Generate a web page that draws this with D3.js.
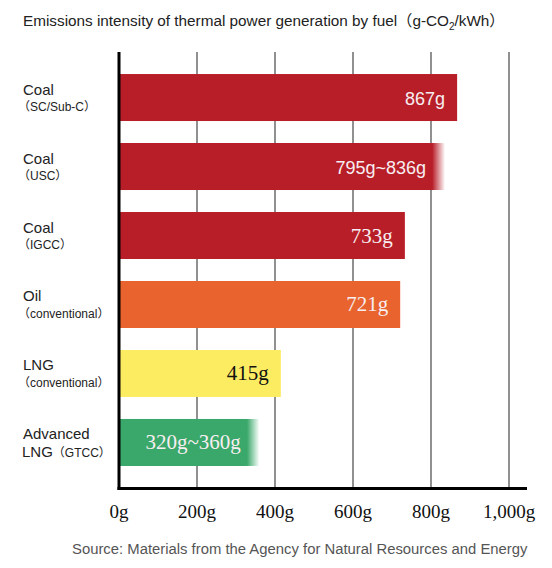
<!DOCTYPE html>
<html>
<head>
<meta charset="utf-8">
<script src="https://cdn.jsdelivr.net/npm/d3@7"></script>
<style>
  body { margin: 0; background: #fff; }
  svg { display: block; }
  .title { font-family: "Liberation Sans", "Noto Sans CJK JP", sans-serif; font-size: 15.3px; fill: #222; }
  .cat { font-family: "Liberation Sans", "Noto Sans CJK JP", sans-serif; fill: #222; }
  .tick-label { font-family: "Liberation Serif", serif; font-size: 19px; fill: #111; }
  .source { font-family: "Liberation Sans", sans-serif; font-size: 14.85px; fill: #555; }
</style>
</head>
<body>
<svg width="552" height="568"></svg>
<script>
// chart data
var fuels = ["Coal", "Coal", "Coal", "Oil", "LNG", "Advanced"];
var subLabels = ["（SC/Sub-C）", "（USC）", "（IGCC）", "（conventional）", "（conventional）", "（GTCC）"];
var lowValues = [867, 795, 733, 721, 415, 320];
var highValues = [867, 836, 733, 721, 415, 360];
var valueLabels = ["867g", "795g~836g", "733g", "721g", "415g", "320g~360g"];
var barColors = ["#b81e28", "#b81e28", "#b81e28", "#e8632d", "#fcec62", "#3aa86a"];
var tickValues = [0, 200, 400, 600, 800, 1000];
var tickLabels = ["0g", "200g", "400g", "600g", "800g", "1,000g"];

var svg = d3.select("svg");

// scales
var x = d3.scaleLinear()
    .domain([0, 1000])
    .range([119, 509]);

var y = d3.scaleBand()
    .domain(d3.range(fuels.length))
    .range([63, 477])
    .paddingInner(0.319)
    .paddingOuter(0.16);

var gridTop = 52,
    axisY = 488.5;

// title
svg.append("text")
    .attr("class", "title")
    .attr("x", 23)
    .attr("y", 26)
    .html("Emissions intensity of thermal power generation by fuel（g-CO<tspan dy='4' font-size='10'>2</tspan><tspan dy='-4'>/kWh）</tspan>");

// gridlines
svg.selectAll(".grid")
    .data(tickValues.slice(1))
    .enter()
    .append("line")
    .attr("class", "grid")
    .attr("x1", function(d) { return x(d); })
    .attr("x2", function(d) { return x(d); })
    .attr("y1", gridTop)
    .attr("y2", axisY)
    .attr("stroke", "#555")
    .attr("stroke-width", 1.3);

// gradients for the range bars
var defs = svg.append("defs");
fuels.forEach(function(f, i) {
    if (lowValues[i] == highValues[i]) return;
    var grad = defs.append("linearGradient")
        .attr("id", "fade" + i)
        .attr("gradientUnits", "userSpaceOnUse")
        .attr("x1", x(lowValues[i]))
        .attr("x2", x(highValues[i]))
        .attr("y1", 0)
        .attr("y2", 0);
    grad.append("stop").attr("offset", 0.2).attr("stop-color", barColors[i]).attr("stop-opacity", 1);
    grad.append("stop").attr("offset", 1).attr("stop-color", barColors[i]).attr("stop-opacity", 0);
});

// bars (range bars fade out between low and high value)
svg.selectAll(".bar")
    .data(fuels)
    .enter()
    .append("rect")
    .attr("class", "bar")
    .attr("x", x(0))
    .attr("y", function(d, i) { return y(i); })
    .attr("width", function(d, i) { return x(highValues[i]) - x(0); })
    .attr("height", y.bandwidth())
    .attr("fill", function(d, i) {
        if (lowValues[i] != highValues[i]) return "url(#fade" + i + ")";
        return barColors[i];
    });

// solid part of range bars
fuels.forEach(function(f, i) {
    if (lowValues[i] == highValues[i]) return;
    svg.append("rect")
        .attr("x", x(0))
        .attr("y", y(i))
        .attr("width", x(lowValues[i]) - x(0))
        .attr("height", y.bandwidth())
        .attr("fill", barColors[i]);
});

// value labels inside the bars
svg.selectAll(".value")
    .data(valueLabels)
    .enter()
    .append("text")
    .attr("class", "value")
    .attr("text-anchor", "end")
    .attr("x", function(d, i) {
        if (lowValues[i] != highValues[i]) return x(lowValues[i]) - 3;
        return x(lowValues[i]) - 12;
    })
    .attr("y", function(d, i) { return y(i) + y.bandwidth() / 2 + 7; })
    .attr("font-family", function(d, i) { return i < 2 ? "Liberation Sans, sans-serif" : "Liberation Serif, serif"; })
    .attr("font-size", function(d, i) { return i < 2 ? 18 : 21; })
    .attr("fill", function(d, i) { return i == 4 ? "#111" : "#f7eef1"; })
    .text(function(d) { return d; });

// category labels
var cats = svg.selectAll(".cat")
    .data(fuels)
    .enter()
    .append("text")
    .attr("class", "cat")
    .attr("x", 23)
    .attr("y", function(d, i) { return y(i) + y.bandwidth() / 2 - 3; });

cats.append("tspan")
    .attr("font-size", 15)
    .text(function(d) { return d; });

cats.each(function(d, i) {
    var t = d3.select(this);
    var line = t.append("tspan")
        .attr("x", i == 5 ? 22 : 18)
        .attr("dy", i == 5 ? 17.5 : 16.7);
    if (i == 5) {
        line.append("tspan").attr("font-size", 15).text("LNG");
    }
    line.append("tspan").attr("font-size", 12).text(subLabels[i]);
});

// axes
svg.append("line")
    .attr("x1", x(0))
    .attr("x2", x(0))
    .attr("y1", gridTop)
    .attr("y2", axisY + 1.5)
    .attr("stroke", "#000")
    .attr("stroke-width", 3);

svg.append("line")
    .attr("x1", x(0) - 1.5)
    .attr("x2", 527)
    .attr("y1", axisY)
    .attr("y2", axisY)
    .attr("stroke", "#000")
    .attr("stroke-width", 3);

// tick labels
svg.selectAll(".tick-label")
    .data(tickValues)
    .enter()
    .append("text")
    .attr("class", "tick-label")
    .attr("text-anchor", "middle")
    .attr("x", function(d) { return x(d); })
    .attr("y", 518)
    .text(function(d, i) { return tickLabels[i]; });

// source
svg.append("text")
    .attr("class", "source")
    .attr("x", 72)
    .attr("y", 554)
    .text("Source: Materials from the Agency for Natural Resources and Energy");
</script>
</body>
</html>
